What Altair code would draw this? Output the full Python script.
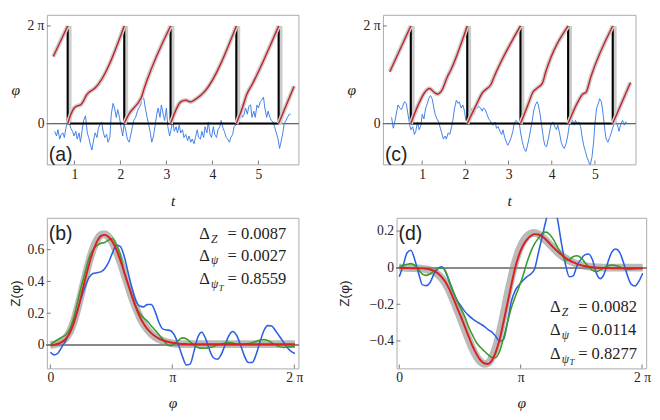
import math
import altair as alt
import pandas as pd

PI = math.pi
TAU = 2 * math.pi
SERIF = "Liberation Serif"
SANS = "Liberation Sans"

# ---------------- panel (a) ----------------
A_RED_T = [0.54, 0.853,
           0.853, 0.923, 0.994, 1.064, 1.134, 1.205, 1.254, 1.31, 1.38, 1.45, 2.083,
           2.083, 2.19, 2.29, 2.40, 2.457, 2.51, 2.58, 3.09,
           3.09, 3.21, 3.31, 3.42, 3.53, 3.63, 3.84, 4.52,
           4.52, 4.65, 4.75, 4.86, 5.44,
           5.44, 5.776]
A_RED_PHI = [4.32, TAU,
             0, 0.6, 1.0, 1.14, 1.2, 1.5, 1.8, 2.0, 2.14, 2.3, TAU,
             0, 0.64, 1.0, 1.4, 1.7, 2.2, 2.8, TAU,
             0, 0.9, 1.4, 1.5, 1.4, 1.56, 2.1, TAU,
             0, 1.0, 1.9, 2.5, TAU,
             0, 2.4]
A_RED_SEG = [0, 0,
             1, 1, 1, 1, 1, 1, 1, 1, 1, 1, 1,
             2, 2, 2, 2, 2, 2, 2, 2,
             3, 3, 3, 3, 3, 3, 3, 3,
             4, 4, 4, 4, 4,
             5, 5]
A_RESETS = [0.853, 2.083, 3.09, 4.52, 5.44]
A_NOISE_T = [0.57, 0.61, 0.64, 0.68, 0.71, 0.75, 0.78, 0.82, 0.85, 0.89,
             0.92, 0.96, 0.99, 1.03, 1.06, 1.10, 1.13, 1.17, 1.20, 1.24,
             1.28, 1.31, 1.35, 1.38, 1.42, 1.45, 1.49, 1.52, 1.56, 1.59,
             1.63, 1.66, 1.70, 1.73, 1.77, 1.80, 1.84, 1.87, 1.91, 1.94,
             1.98, 2.01, 2.05, 2.08, 2.12, 2.15, 2.19, 2.22, 2.26, 2.29,
             2.33, 2.37, 2.40, 2.44, 2.47, 2.51, 2.54, 2.58, 2.61, 2.65,
             2.68, 2.72, 2.75, 2.79, 2.82, 2.86, 2.89, 2.93, 2.96, 3.00,
             3.03, 3.07, 3.10, 3.14, 3.17, 3.21, 3.24, 3.28, 3.31, 3.35,
             3.38, 3.42, 3.46, 3.49, 3.53, 3.56, 3.60, 3.63, 3.67, 3.70,
             3.74, 3.77, 3.81, 3.84, 3.88, 3.91, 3.95, 3.98, 4.02, 4.05,
             4.09, 4.12, 4.16, 4.19, 4.23, 4.26, 4.30, 4.33, 4.37, 4.40,
             4.44, 4.47, 4.51, 4.55, 4.58, 4.62, 4.65, 4.69, 4.72, 4.76,
             4.79, 4.83, 4.86, 4.90, 4.93, 4.97, 5.00, 5.04, 5.07, 5.11,
             5.14, 5.18, 5.21, 5.25, 5.28, 5.32, 5.35, 5.39, 5.42, 5.46,
             5.49, 5.53, 5.56, 5.60, 5.63, 5.67, 5.70]
A_NOISE = [-0.5, -0.8, -0.4, -1.0, -0.7, -0.6, -0.9, -0.2, 0.1, 0.0,
           -0.3, -0.5, -0.8, -0.5, -1.0, -0.6, -1.2, -0.4, 0.2, 0.5,
           -0.6, -0.9, -1.4, -1.7, -1.0, -0.6, -0.9, -0.3, 0.0, 0.1,
           -0.6, -0.9, -0.7, -1.2, -0.9, 0.6, 1.3, 1.0, 0.4, 0.9,
           0.4, -0.2, -0.8, 0.0, -0.5, -1.0, -1.2, -0.8, -0.2, 0.2,
           0.4, 0.8, 1.0, 1.2, 1.7, 1.6, 1.0, 0.4, 0.0, -0.6,
           -1.2, -0.8, -0.2, 0.6, 1.0, 0.4, 1.2, 0.6, 0.2, 1.0,
           -0.2, -0.8, -0.4, 0.2, -0.5, -0.2, -0.6, -0.1, -0.6, -0.4,
           -0.9, -0.7, -1.1, -0.8, -1.2, -1.0, -1.3, -0.9, -0.4, -0.9,
           -1.0, -0.5, -0.9, -0.2, -0.6, 0.1, -0.7, -0.9, -0.2, -0.7,
           -0.9, -0.4, -0.2, 0.2, -0.3, -0.5, -0.9, -1.0, -1.2, -0.9,
           -0.7, -0.2, -0.1, 0.2, 0.1, 0.8, 0.4, 0.6, 1.0, 0.6,
           1.1, 1.2, 0.4, 0.8, 0.4, 1.2, 1.0, 1.4, 1.5, 1.7,
           1.0, 0.4, 0.8, 0.4, 0.2, 0.1, -0.2, -0.6, -0.9, -1.6,
           -1.2, -0.6, 0.0, 0.2, 0.4, 0.6, 0.6]

# ---------------- panel (c) ----------------
C_RED_T = [0.249, 0.735,
           0.735, 0.907, 1.056, 1.168, 1.28, 1.355, 1.467, 1.58, 1.654, 2.043,
           2.043, 2.252, 2.40, 2.476, 2.588, 2.663, 3.276,
           3.276, 3.448, 3.56, 3.672, 3.784, 3.859, 4.38,
           4.38, 4.606, 4.72, 4.793, 4.905, 5.413,
           5.413, 5.824]
C_RED_PHI = [3.34, TAU,
             0, 1.2, 2.0, 2.26, 2.0, 1.9, 2.2, 3.0, 3.4, TAU,
             0, 1.2, 2.0, 2.2, 2.5, 3.0, TAU,
             0, 1.2, 2.0, 2.3, 2.6, 3.3, TAU,
             0, 1.4, 1.9, 2.0, 3.0, TAU,
             0, 2.64]
C_RED_SEG = [0, 0,
             1, 1, 1, 1, 1, 1, 1, 1, 1, 1,
             2, 2, 2, 2, 2, 2, 2,
             3, 3, 3, 3, 3, 3, 3,
             4, 4, 4, 4, 4, 4,
             5, 5]
C_RESETS = [0.735, 2.043, 3.276, 4.38, 5.413]
C_NOISE_T = [0.29, 0.33, 0.37, 0.41, 0.44, 0.48, 0.52, 0.56, 0.59, 0.63,
             0.67, 0.71, 0.74, 0.78, 0.82, 0.85, 0.89, 0.93, 0.97, 1.00,
             1.04, 1.08, 1.12, 1.15, 1.19, 1.23, 1.27, 1.30, 1.34, 1.38,
             1.42, 1.45, 1.49, 1.53, 1.56, 1.60, 1.64, 1.68, 1.71, 1.75,
             1.79, 1.83, 1.86, 1.90, 1.94, 1.98, 2.01, 2.05, 2.09, 2.13,
             2.16, 2.20, 2.24, 2.27, 2.31, 2.35, 2.39, 2.42, 2.46, 2.50,
             2.54, 2.57, 2.61, 2.65, 2.69, 2.72, 2.76, 2.80, 2.84, 2.87,
             2.91, 2.95, 2.98, 3.02, 3.06, 3.10, 3.13, 3.17, 3.21, 3.25,
             3.28, 3.32, 3.36, 3.40, 3.43, 3.47, 3.51, 3.55, 3.58, 3.62,
             3.66, 3.69, 3.73, 3.77, 3.81, 3.84, 3.88, 3.92, 3.96, 3.99,
             4.03, 4.07, 4.11, 4.14, 4.18, 4.22, 4.26, 4.29, 4.33, 4.37,
             4.40, 4.44, 4.48, 4.52, 4.55, 4.59, 4.63, 4.67, 4.70, 4.74,
             4.78, 4.82, 4.85, 4.89, 4.93, 4.97, 5.00, 5.04, 5.08, 5.11,
             5.15, 5.19, 5.23, 5.26, 5.30, 5.34, 5.38, 5.41, 5.45, 5.49,
             5.53, 5.56, 5.60, 5.64, 5.68, 5.71, 5.75]
C_NOISE = [0.4, -0.3, 0.2, 0.8, 1.2, 1.0, 0.9, 1.2, 1.4, 1.3,
           0.6, -0.1, -0.4, -0.2, -0.7, -0.5, 0.1, -0.4, -0.1, 0.6,
           0.3, 1.0, 1.3, 1.6, 1.8, 1.6, 1.0, 0.6, 0.3, 0.1,
           -0.3, -0.6, -1.0, -0.8, -1.0, -0.6, -0.7, -0.2, 0.2, 1.0,
           1.5, 1.3, 1.4, 1.0, 1.2, 0.8, 0.2, 0.4, 0.6, 0.8,
           1.0, 0.6, 0.9, 1.0, 1.1, 1.0, 0.8, 1.0, 0.9, 0.6,
           0.3, 0.2, 0.0, -0.1, 0.1, -0.3, -0.2, -0.5, -0.7, -0.4,
           -0.9, -1.2, -1.4, -1.2, -0.9, -0.5, 0.0, 0.2, 0.1, 0.0,
           -0.6, -1.2, -1.6, -1.8, -1.5, -1.0, -0.4, 0.2, 0.8, 1.2,
           1.4, 1.2, 0.6, -0.2, -1.0, -1.4, -1.5, -1.0, -0.4, 0.0,
           0.1, -0.2, -0.4, -0.1, -0.6, -1.2, -1.5, -1.6, -1.3, -0.8,
           -0.2, 0.1, 0.2, -0.1, 0.2, 0.0, 0.1, -0.2, -0.8, -1.4,
           -1.8, -2.2, -2.4, -2.7, -2.2, -1.2, 0.0, 1.0, 1.3, 1.6,
           1.4, 0.6, -0.4, -1.0, -1.2, -0.9, -0.6, -0.3, 0.0, 0.1,
           -0.2, -0.5, 0.0, 0.2, -0.1, 0.1, 0.0]

# ---------------- panels (b), (d): Z(phi) ----------------
PHI_GRID = [0.0, 0.1, 0.2, 0.3, 0.4, 0.5, 0.6, 0.7, 0.8, 0.9,
            1.0, 1.1, 1.2, 1.3, 1.4, 1.5, 1.6, 1.7, 1.8, 1.9,
            2.0, 2.1, 2.2, 2.3, 2.4, 2.5, 2.6, 2.7, 2.8, 2.9,
            3.0, 3.1, 3.2, 3.3, 3.4, 3.5, 3.6, 3.7, 3.8, 3.9,
            4.0, 4.1, 4.2, 4.3, 4.4, 4.5, 4.6, 4.7, 4.8, 4.9,
            5.0, 5.1, 5.2, 5.3, 5.4, 5.5, 5.6, 5.7, 5.8, 5.9,
            6.0, 6.1, 6.2, 6.3]
B_THEORY = [0.0, 0.004, 0.01, 0.022, 0.045, 0.082, 0.145, 0.23, 0.33, 0.43,
            0.525, 0.605, 0.66, 0.692, 0.698, 0.68, 0.645, 0.59, 0.525, 0.45,
            0.375, 0.30, 0.235, 0.178, 0.132, 0.097, 0.07, 0.05, 0.036, 0.026,
            0.018, 0.013, 0.009, 0.007, 0.006, 0.005, 0.005, 0.005, 0.005, 0.005,
            0.005, 0.005, 0.005, 0.005, 0.005, 0.005, 0.005, 0.005, 0.005, 0.005,
            0.005, 0.005, 0.005, 0.005, 0.005, 0.005, 0.005, 0.005, 0.005, 0.005,
            0.005, 0.005, 0.005, 0.005]
B_RED = [-0.004, 0.002, 0.008, 0.02, 0.04, 0.075, 0.135, 0.215, 0.315, 0.415,
         0.51, 0.59, 0.65, 0.685, 0.693, 0.68, 0.65, 0.60, 0.535, 0.46,
         0.385, 0.31, 0.24, 0.18, 0.135, 0.10, 0.075, 0.055, 0.04, 0.03,
         0.022, 0.016, 0.012, 0.009, 0.007, 0.006, 0.005, 0.005, 0.005, 0.005,
         0.005, 0.005, 0.005, 0.005, 0.005, 0.005, 0.005, 0.005, 0.005, 0.005,
         0.005, 0.005, 0.005, 0.005, 0.005, 0.005, 0.005, 0.005, 0.005, 0.005,
         0.005, 0.005, 0.005, 0.005]
B_GREEN = [0.0, 0.02, 0.035, 0.05, 0.065, 0.10, 0.17, 0.27, 0.37, 0.46,
           0.55, 0.60, 0.625, 0.64, 0.645, 0.66, 0.67, 0.63, 0.57, 0.46,
           0.38, 0.31, 0.245, 0.20, 0.172, 0.15, 0.12, 0.093, 0.065, 0.035,
           0.005, -0.005, 0.01, 0.03, 0.045, 0.04, 0.02, 0.0, -0.015, -0.02,
           -0.02, -0.015, -0.01, 0.0, 0.005, 0.012, 0.015, 0.012, 0.005, 0.002,
           0.005, 0.01, 0.015, 0.022, 0.032, 0.035, 0.028, 0.015, 0.0, -0.01,
           -0.015, -0.012, -0.01, -0.01]
B_BLUE = [-0.045, -0.062, -0.05, -0.01, 0.03, 0.08, 0.14, 0.22, 0.30, 0.37,
          0.425, 0.45, 0.455, 0.46, 0.48, 0.52, 0.58, 0.628, 0.62, 0.56,
          0.46, 0.36, 0.28, 0.245, 0.24, 0.255, 0.255, 0.21, 0.14, 0.10,
          0.095, 0.09, 0.06, 0.0, -0.07, -0.125, -0.12, -0.04, 0.05, 0.08,
          0.04, -0.03, -0.08, -0.09, -0.06, 0.0, 0.06, 0.085, 0.06, 0.0,
          -0.07, -0.11, -0.11, -0.06, 0.02, 0.09, 0.122, 0.12, 0.09, 0.055,
          0.02, -0.015, -0.04, -0.053]
D_THEORY = [0.0, 0.0, -0.001, -0.002, -0.003, -0.004, -0.006, -0.009, -0.014, -0.023,
            -0.037, -0.058, -0.088, -0.128, -0.178, -0.23, -0.285, -0.34, -0.395, -0.445,
            -0.485, -0.513, -0.525, -0.52, -0.49, -0.435, -0.355, -0.255, -0.15, -0.055,
            0.03, 0.095, 0.14, 0.17, 0.185, 0.19, 0.183, 0.168, 0.148, 0.126,
            0.104, 0.084, 0.066, 0.051, 0.038, 0.028, 0.02, 0.014, 0.009, 0.006,
            0.003, 0.002, 0.001, 0.0, 0.0, 0.0, 0.0, 0.0, 0.0, 0.0,
            0.0, 0.0, 0.0, 0.0]
D_RED = [-0.002, -0.002, -0.002, -0.003, -0.003, -0.003, -0.004, -0.006, -0.010, -0.018,
         -0.031, -0.052, -0.08, -0.12, -0.168, -0.22, -0.27, -0.323, -0.378, -0.43,
         -0.472, -0.505, -0.522, -0.526, -0.506, -0.46, -0.39, -0.295, -0.195, -0.095,
         0.0, 0.07, 0.12, 0.152, 0.173, 0.183, 0.181, 0.17, 0.152, 0.13,
         0.108, 0.088, 0.07, 0.054, 0.04, 0.03, 0.021, 0.014, 0.009, 0.005,
         0.002, 0.0, -0.001, -0.002, -0.002, -0.003, -0.003, -0.003, -0.003, -0.003,
         -0.003, -0.003, -0.003, -0.003]
D_GREEN = [0.005, 0.012, 0.018, 0.022, 0.012, -0.012, -0.035, -0.042, -0.033, -0.02,
           -0.005, 0.0, -0.02, -0.075, -0.13, -0.185, -0.225, -0.27, -0.325, -0.37,
           -0.41, -0.435, -0.455, -0.475, -0.49, -0.49, -0.455, -0.383, -0.30, -0.22,
           -0.16, -0.105, -0.045, 0.025, 0.085, 0.13, 0.16, 0.187, 0.194, 0.18,
           0.15, 0.11, 0.075, 0.04, 0.045, 0.06, 0.065, 0.055, 0.03, 0.005,
           -0.015, -0.022, -0.012, 0.0, 0.01, 0.015, 0.012, 0.005, -0.005, -0.01,
           -0.008, -0.006, -0.005, -0.005]
D_BLUE = [-0.05, 0.01, 0.08, 0.095, 0.045, -0.03, -0.094, -0.098, -0.08, -0.034,
          -0.005, 0.005, -0.024, -0.08, -0.135, -0.178, -0.21, -0.24, -0.262, -0.28,
          -0.295, -0.307, -0.32, -0.338, -0.352, -0.376, -0.403, -0.391, -0.30, -0.185,
          -0.125, -0.095, -0.07, -0.05, -0.035, -0.009, 0.08, 0.17, 0.26, 0.34,
          0.35, 0.26, 0.13, 0.02, -0.05, -0.045, 0.01, 0.045, 0.07, 0.075,
          0.043, -0.03, -0.06, -0.035, 0.03, 0.085, 0.102, 0.085, 0.03, -0.04,
          -0.09, -0.1, -0.075, -0.03]

B_STATS = [("Z", "0.0087"), ("ψ", "0.0027"), ("ψT", "0.8559")]
D_STATS = [("Z", "0.0082"), ("ψ", "0.0114"), ("ψT", "0.8277")]

T_TICKS = [1, 2, 3, 4, 5]
SAW_Y_TICKS = [0, TAU]
Z_X_TICKS = [0, PI, TAU]
B_Y_TICKS = [0, 0.2, 0.4, 0.6]
D_Y_TICKS = [-0.4, -0.2, 0, 0.2]

# ---------------- styling ----------------
FRAME = "#a9a9a9"
TICK = "#777777"
GRAY = "#bababa"
SAW_RED = "#c0262c"
NOISE_BLUE = "#3f7fe8"
Z_RED = "#dc1f1f"
Z_GREEN = "#3a9a2a"
Z_BLUE = "#2b5fe6"
TEXT = "#222222"

DUMMY = pd.DataFrame({"k": [0]})


def txt(s, x, y, size, font=SERIF, style="normal", align="left"):
    return alt.Chart(DUMMY).mark_text(
        text=s, font=font, fontSize=size, fontStyle=style, align=align,
        baseline="alphabetic", color=TEXT
    ).encode(x=alt.value(x), y=alt.value(y))


def inner_ticks(xfield, xvals, yfield, yvals, h):
    xt = alt.Chart(pd.DataFrame({xfield: xvals})).mark_rule(color=TICK, strokeWidth=1).encode(
        x=f"{xfield}:Q", y=alt.value(h), y2=alt.value(h - 4))
    yt = alt.Chart(pd.DataFrame({yfield: yvals})).mark_rule(color=TICK, strokeWidth=1).encode(
        y=f"{yfield}:Q", x=alt.value(0), x2=alt.value(4))
    return [xt, yt]


def saw_panel(label, red_t, red_phi, red_seg, resets, noise_t, noise,
              xdom, w, h, ytp):
    xenc = alt.X("t:Q", scale=alt.Scale(domain=xdom, nice=False, zero=False),
                 axis=alt.Axis(values=T_TICKS, format="d", title="t",
                               titleFontStyle="italic", titlePadding=12))
    yenc = alt.Y("phi:Q", scale=alt.Scale(domain=[-2.63, 7.0], nice=False, zero=False),
                 axis=alt.Axis(values=SAW_Y_TICKS,
                               labelExpr="datum.value < 1 ? '0' : '2 π'",
                               title="φ", titleFontStyle="italic", titleAngle=0,
                               titleBaseline="middle", titleAlign="center",
                               titlePadding=ytp))
    red_df = pd.DataFrame({"t": red_t, "phi": red_phi, "seg": red_seg})
    noise_df = pd.DataFrame({"t": noise_t, "phi": noise})
    reset_df = pd.DataFrame({"t": resets})

    noise_l = alt.Chart(noise_df).mark_line(color=NOISE_BLUE, strokeWidth=1, clip=True).encode(x=xenc, y=yenc)
    zero_l = alt.Chart(reset_df).mark_rule(color="#666666", strokeWidth=1).encode(y=alt.datum(0))
    shade_v = alt.Chart(reset_df).mark_rule(color="#cccccc", strokeWidth=3, xOffset=2.5).encode(
        x="t:Q", y=alt.datum(0), y2=alt.datum(TAU))
    black_v = alt.Chart(reset_df).mark_rule(color="black", strokeWidth=2.2).encode(
        x="t:Q", y=alt.datum(0), y2=alt.datum(TAU))
    black_h = alt.Chart(reset_df).mark_rule(color="black", strokeWidth=2).encode(
        x="min(t):Q", x2="max(t):Q", y=alt.datum(0))
    halo = alt.Chart(red_df).mark_line(color="#cfcfcf", strokeWidth=4.5, interpolate="monotone",
                                       clip=True).encode(x="t:Q", y="phi:Q", detail="seg:N")
    red = alt.Chart(red_df).mark_line(color=SAW_RED, strokeWidth=1.5, interpolate="monotone",
                                      clip=True).encode(x="t:Q", y="phi:Q", detail="seg:N")
    lab = txt(label, 2, h - 4, 20, font=SANS)
    layers = [noise_l, zero_l, shade_v, black_v, black_h, halo, red, lab]
    layers += inner_ticks("t", T_TICKS, "phi", SAW_Y_TICKS, h)
    return alt.layer(*layers).properties(width=w, height=h)


def z_panel(label, theory, red, green, blue, xdom, ydom, yvals, w, h, ytp,
            stats, sx, base_ys):
    df = pd.DataFrame({"phi": PHI_GRID, "theory": theory, "red": red,
                       "green": green, "blue": blue})
    xenc = alt.X("phi:Q", scale=alt.Scale(domain=xdom, nice=False, zero=False),
                 axis=alt.Axis(values=Z_X_TICKS,
                               labelExpr="datum.value < 1 ? '0' : (datum.value < 4 ? 'π' : '2 π')",
                               title="φ", titleFontStyle="italic", titlePadding=10))
    yscale = alt.Scale(domain=ydom, nice=False, zero=False)
    yaxis = alt.Axis(values=yvals,
                     labelExpr="datum.value == 0 ? '0' : replace(format(datum.value, '.1f'), '-', '−')",
                     title="Z(φ)", titleFont=SANS, titleFontSize=14, titlePadding=ytp)
    base = alt.Chart(df)
    zero_l = base.mark_rule(color="#8a8a8a", strokeWidth=1).encode(y=alt.datum(0))
    gray = base.mark_line(color=GRAY, strokeWidth=8, interpolate="monotone", clip=True).encode(
        x=xenc, y=alt.Y("theory:Q", scale=yscale, axis=yaxis))
    l_blue = base.mark_line(color=Z_BLUE, strokeWidth=1.6, interpolate="monotone", clip=True).encode(
        x="phi:Q", y="blue:Q")
    l_green = base.mark_line(color=Z_GREEN, strokeWidth=1.6, interpolate="monotone", clip=True).encode(
        x="phi:Q", y="green:Q")
    l_red = base.mark_line(color=Z_RED, strokeWidth=2, interpolate="monotone", clip=True).encode(
        x="phi:Q", y="red:Q")
    layers = [gray, zero_l, l_blue, l_green, l_red]
    layers += inner_ticks("phi", Z_X_TICKS, "theory", yvals, h)
    layers.append(txt(label, 2, 23, 20, font=SANS))
    for (sub, val), by in zip(stats, base_ys):
        layers.append(txt("Δ", sx, by, 17))
        if sub == "ψT":
            layers.append(txt("ψ", sx + 12, by + 4, 12, style="italic"))
            layers.append(txt("T", sx + 20, by + 7, 9, style="italic"))
        else:
            layers.append(txt(sub, sx + 12, by + 4, 12, style="italic"))
        layers.append(txt("= " + val, sx + 29, by, 17))
    return alt.layer(*layers).properties(width=w, height=h)


pa = saw_panel("(a)", A_RED_T, A_RED_PHI, A_RED_SEG, A_RESETS, A_NOISE_T, A_NOISE,
               [0.40, 5.87], 259, 154, 12)
pc = saw_panel("(c)", C_RED_T, C_RED_PHI, C_RED_SEG, C_RESETS, C_NOISE_T, C_NOISE,
               [0.09, 5.94], 260, 154, 12)
pb = z_panel("(b)", B_THEORY, B_RED, B_GREEN, B_BLUE, [-0.09, 6.39], [-0.147, 0.80],
             B_Y_TICKS, 259, 155, 5, B_STATS, 157, [22, 44, 68])
pd_ = z_panel("(d)", D_THEORY, D_RED, D_GREEN, D_BLUE, [-0.07, 6.39], [-0.55, 0.272],
              D_Y_TICKS, 257, 155, 18, D_STATS, 158, [97, 121, 145])

row1 = alt.hconcat(pa, pc, spacing=48)
row2 = alt.hconcat(pb, pd_, spacing=34)

chart = alt.vconcat(row1, row2, spacing=8).properties(
    padding={"left": 0, "top": 0, "right": 0, "bottom": 0}
).configure_view(
    stroke=FRAME, strokeWidth=1
).configure_axis(
    domain=False, ticks=False, grid=False,
    labelFont=SERIF, labelFontSize=14, labelColor=TEXT, labelPadding=3,
    titleFont=SERIF, titleFontSize=16, titleFontWeight="normal", titleColor=TEXT
)

chart.save("out.html", embed_options={"renderer": "svg", "actions": False})
